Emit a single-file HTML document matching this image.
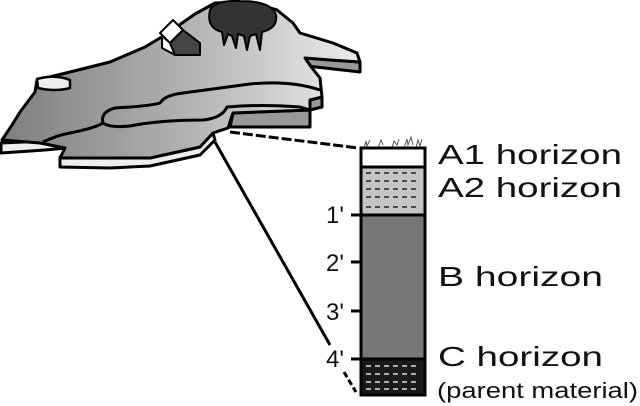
<!DOCTYPE html>
<html><head><style>
html,body{margin:0;padding:0;background:#fff;}
svg{display:block}
text{font-family:"Liberation Sans",sans-serif;fill:#111}
</style></head><body>
<svg width="640" height="406" viewBox="0 0 640 406" xmlns="http://www.w3.org/2000/svg">
<defs>
<linearGradient id="g" x1="0" x2="360" y1="0" y2="0" gradientUnits="userSpaceOnUse">
<stop offset="0" stop-color="#7e7e7e"/><stop offset="0.5" stop-color="#b0b0b0"/><stop offset="1" stop-color="#ececec"/>
</linearGradient>
</defs>
<g stroke="#000" stroke-width="3" stroke-linejoin="round">
<path d="M1 143 L1 153 L45 150 L67 148 L67 140 Z" fill="#eee"/>
<path d="M60 157 L60 167 L110 168 L150 166 L200 155 L215 140 L213 133 L200 147 L150 158 Z" fill="#eee"/>
<path d="M233 113 L230 127 L310 127 L310 110 Z" fill="#999"/>
<path d="M305 58 L307 66 L360 72 L360 62 Z" fill="#999"/>
<path d="M310 100 L310 110 L322 107 L322 97 Z" fill="#999"/>
<path d="M2 140 L12 125 L20 112 L35 92 L37 80 L70 72 L110 62 L145 47 L165 35 L195 14 L215 3 L250 2 L277 10 L293 23 L300 33 L333 43 L357 53 L360 62 L330 60 L305 58 L312 68 L320 78 L322 97 L310 100 L310 110 L233 113 L228 128 L213 133 L200 147 L150 158 L60 158 L65 148 L40 143 Z" fill="url(#g)"/>
<path d="M37 79 Q55 74 70 80 L70 88 Q55 92 38 88 Z" fill="#eee" stroke-width="2.5"/>
<path d="M43 142 Q58 135 70 133 Q95 128 103 123 Q100 112 115 108 Q150 106 160 103 Q165 95 183 93 Q220 88 250 84 Q290 80 320 90" fill="none"/>
<path d="M103 123 Q110 128 130 126 Q160 120 203 120 Q222 118 227 107 Q260 104 300 107 L310 110" fill="none"/>
<path d="M160 33 L173 20 L183 30 L170 43 Z" fill="#fff" stroke-width="2"/>
<path d="M162 36 L162 48 L175 55 L170 43 Z" fill="#fff" stroke-width="2"/>
<path d="M170 43 L183 30 L200 43 L200 55 L175 55 Z" fill="#444" stroke-width="2"/>
<path d="M210 10 Q215 0 240 1 Q272 1 276 15 Q278 28 262 32 L260 50 L256 34 L250 36 L247 50 L244 36 L238 34 L236 48 L232 36 L228 34 L224 45 L222 32 Q206 28 210 10 Z" fill="#333" stroke-width="2"/>
</g>
<path d="M230 132 L358 148" stroke="#000" stroke-width="3" stroke-dasharray="10,3" fill="none"/>
<path d="M215 142 L330 345" stroke="#000" stroke-width="3" fill="none"/>
<path d="M344 372 L356 392" stroke="#000" stroke-width="3" stroke-dasharray="6,3" fill="none"/>
<path d="M364 148 l2 -7 l1 5 l3 -6 M378 148 l3 -8 l2 5 M392 148 l2 -7 l3 4 l2 -6 M404 148 l3 -9 l1 6 l3 -8 l2 8 M416 148 l2 -8 l2 6 l2 -7" stroke="#555" stroke-width="1" fill="none"/>
<rect x="361" y="148" width="64" height="19" fill="#fff" stroke="#000" stroke-width="3"/>
<rect x="361" y="167" width="64" height="48" fill="#c4c4c4" stroke="#000" stroke-width="3"/>
<g stroke="#222" stroke-width="1.5" stroke-dasharray="5,4">
<line x1="366" y1="173" x2="420" y2="173"/><line x1="366" y1="181" x2="420" y2="181"/>
<line x1="366" y1="189" x2="420" y2="189"/><line x1="366" y1="197" x2="420" y2="197"/><line x1="366" y1="207" x2="420" y2="207"/>
</g>
<rect x="361" y="215" width="64" height="144" fill="#777" stroke="#000" stroke-width="3"/>
<rect x="361" y="359" width="64" height="36" fill="#1a1a1a" stroke="#000" stroke-width="3"/>
<g stroke="#ddd" stroke-width="1.5" stroke-dasharray="5,4">
<line x1="366" y1="366" x2="420" y2="366"/><line x1="366" y1="374" x2="420" y2="374"/>
<line x1="366" y1="382" x2="420" y2="382"/><line x1="366" y1="389" x2="420" y2="389"/>
</g>
<g stroke="#000" stroke-width="3">
<line x1="351" y1="215" x2="361" y2="215"/><line x1="351" y1="262" x2="361" y2="262"/>
<line x1="351" y1="311" x2="361" y2="311"/><line x1="351" y1="359" x2="361" y2="359"/>
</g>
<g font-size="24">
<text x="326" y="223">1'</text><text x="326" y="271">2'</text>
<text x="326" y="320">3'</text><text x="326" y="367">4'</text>
</g>
<g font-size="28">
<text x="438" y="164" textLength="184" lengthAdjust="spacingAndGlyphs">A1 horizon</text>
<text x="438" y="197" textLength="184" lengthAdjust="spacingAndGlyphs">A2 horizon</text>
<text x="438" y="286" textLength="165" lengthAdjust="spacingAndGlyphs">B horizon</text>
<text x="438" y="366" textLength="165" lengthAdjust="spacingAndGlyphs">C horizon</text>
</g>
<text x="437" y="398" font-size="22" textLength="201" lengthAdjust="spacingAndGlyphs">(parent material)</text>
</svg>
</body></html>
